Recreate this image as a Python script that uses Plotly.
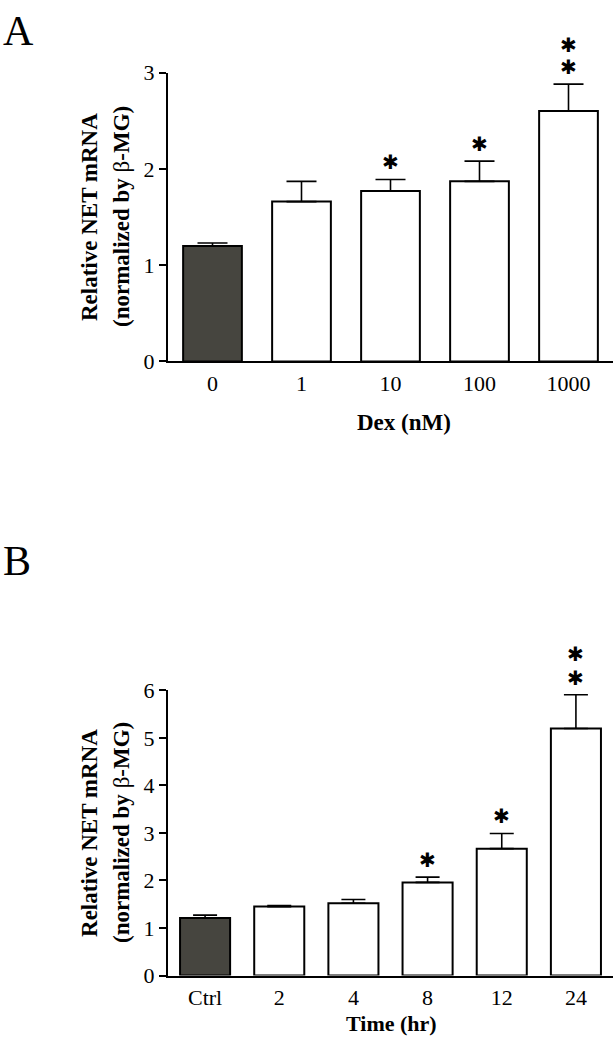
import plotly.graph_objects as go

# ---- Panel A data ----
cat_a = ["0", "1", "10", "100", "1000"]
mean_a = [1.20, 1.66, 1.77, 1.87, 2.60]
err_a = [0.03, 0.21, 0.12, 0.21, 0.28]
stars_a = [0, 0, 1, 1, 2]
yticks_a = [0, 1, 2, 3]

# ---- Panel B data ----
cat_b = ["Ctrl", "2", "4", "8", "12", "24"]
mean_b = [1.21, 1.45, 1.52, 1.96, 2.67, 5.20]
err_b = [0.06, 0.02, 0.08, 0.11, 0.32, 0.71]
stars_b = [0, 0, 0, 1, 1, 2]
yticks_b = [0, 1, 2, 3, 4, 5, 6]

DARK = "#46453f"
SERIF = "Liberation Serif"
W, H = 613, 1050

fig = go.Figure()


def add_panel(cats, means, errs, xa, ya, width, capw):
    pos = list(range(len(cats)))
    colors = [DARK] + ["white"] * (len(cats) - 1)
    fig.add_trace(go.Bar(
        x=pos, y=means, width=width,
        marker=dict(color=colors, line=dict(color="black", width=2)),
        error_y=dict(type="data", symmetric=False, array=errs,
                     arrayminus=[0] * len(errs), color="black",
                     thickness=1.6, width=capw),
        xaxis=xa, yaxis=ya, showlegend=False, hoverinfo="skip",
    ))


add_panel(cat_a, mean_a, err_a, "x", "y", 0.66, 15)
add_panel(cat_b, mean_b, err_b, "x2", "y2", 0.675, 12)

annotations = []


def add_stars(cats, means, errs, stars, xref, yref, first, gap):
    for i, (m, e, s) in enumerate(zip(means, errs, stars)):
        for k in range(s):
            annotations.append(dict(
                x=i, y=m + e, xref=xref, yref=yref, text="✱",
                showarrow=False, yanchor="middle",
                yshift=first + k * gap,
                font=dict(family="DejaVu Sans", size=20, color="black")))


add_stars(cat_a, mean_a, err_a, stars_a, "x", "y", 17, 22)
add_stars(cat_b, mean_b, err_b, stars_b, "x2", "y2", 17, 24)


def px_x(p):
    return p / W


def px_y(p):
    return 1 - p / H


title_font = dict(family=SERIF, size=23, color="black")
# y-axis titles (two lines each)
for yc in (210, 841):
    annotations.append(dict(x=px_x(90), y=px_y(yc), xref="paper", yref="paper",
                            text="<b>Relative NET mRNA</b>", textangle=-90,
                            showarrow=False, font=title_font,
                            xanchor="center", yanchor="middle"))
    annotations.append(dict(x=px_x(122), y=px_y(yc), xref="paper", yref="paper",
                            text="<b>(normalized by </b>β<b>-MG)</b>", textangle=-90,
                            showarrow=False, font=title_font,
                            xanchor="center", yanchor="middle"))
# x-axis titles
annotations.append(dict(x=px_x(404), y=px_y(420), xref="paper", yref="paper",
                        text="<b>Dex (nM)</b>", showarrow=False, font=title_font,
                        xanchor="center", yanchor="middle"))
annotations.append(dict(x=px_x(391), y=px_y(1036), xref="paper", yref="paper",
                        text="<b>Time (hr)</b>", showarrow=False,
                        font=dict(family=SERIF, size=22, color="black"),
                        xanchor="center", yanchor="middle"))
# panel letters
annotations.append(dict(x=px_x(18), y=px_y(19), xref="paper", yref="paper",
                        text="A", showarrow=False,
                        font=dict(family=SERIF, size=42, color="black"),
                        xanchor="center", yanchor="middle"))
annotations.append(dict(x=px_x(17), y=px_y(562), xref="paper", yref="paper",
                        text="B", showarrow=False,
                        font=dict(family=SERIF, size=42, color="black"),
                        xanchor="center", yanchor="middle"))

tick_font = dict(family=SERIF, size=22, color="black")
xcommon = dict(showgrid=False, zeroline=False, showline=True, linecolor="black",
               linewidth=2, ticks="", tickfont=tick_font, ticklabelstandoff=1,
               fixedrange=True)
ycommon = dict(showgrid=False, zeroline=False, showline=True, linecolor="black",
               linewidth=2, ticks="outside", ticklen=7, tickwidth=2,
               tickcolor="black", tickfont=tick_font, fixedrange=True)

fig.update_layout(
    width=W, height=H,
    margin=dict(l=0, r=0, t=0, b=0),
    paper_bgcolor="white", plot_bgcolor="white",
    xaxis=dict(domain=[px_x(168), 1], anchor="y", range=[-0.5, 4.5],
               tickvals=list(range(len(cat_a))), ticktext=cat_a, **xcommon),
    yaxis=dict(domain=[px_y(358), px_y(62)], anchor="x", range=[0, 3],
               tickvals=yticks_a, **ycommon),
    xaxis2=dict(domain=[px_x(168), 1], anchor="y2", range=[-0.5, 5.5],
                tickvals=list(range(len(cat_b))), ticktext=cat_b, **xcommon),
    yaxis2=dict(domain=[px_y(987), px_y(695)], anchor="x2", range=[0, 6],
                tickvals=yticks_b, **ycommon),
    annotations=annotations,
)

fig.write_html("out.html", config={"displayModeBar": False},
               post_script="document.body.style.margin='0';")
